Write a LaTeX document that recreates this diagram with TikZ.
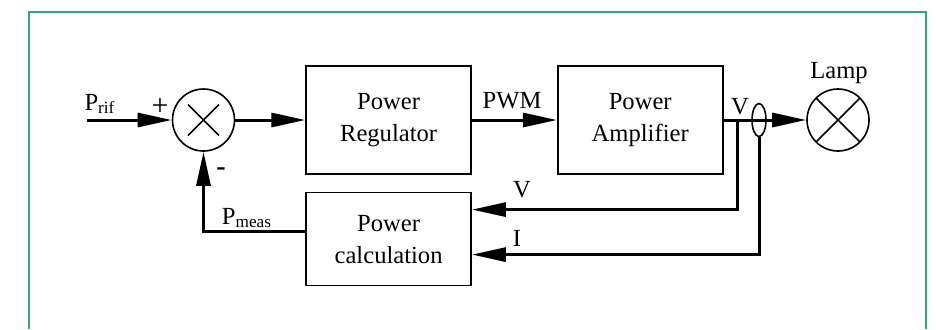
\documentclass[tikz,border=0pt]{standalone}
\usepackage{fontspec}
\setmainfont{Liberation Serif}
\usepackage{xcolor}
\usepackage{tikz}
\usetikzlibrary{arrows.meta, positioning, shapes.geometric}

\definecolor{framegreen}{RGB}{58,163,118}

\begin{document}
\begin{tikzpicture}[
        x=0.5pt, y=-0.5pt,
        font=\fontsize{12.3}{16}\selectfont,
        box/.style={rectangle, draw=black, line width=0.8pt, align=center, minimum width=82.5pt, minimum height=54pt, inner sep=0pt},
        sumnode/.style={circle, draw=black, line width=0.8pt, minimum size=31pt, inner sep=0pt,
            path picture={\draw[line width=0.8pt] (path picture bounding box.center) ++(-7.75pt,-7.75pt) -- ++(15.5pt,15.5pt);
                          \draw[line width=0.8pt] (path picture bounding box.center) ++(-7.75pt,7.75pt) -- ++(15.5pt,-15.5pt);}},
        lampnode/.style={circle, draw=black, line width=0.8pt, minimum size=31pt, inner sep=0pt,
            path picture={\draw[line width=0.8pt] (path picture bounding box.south west) -- (path picture bounding box.north east);
                          \draw[line width=0.8pt] (path picture bounding box.north west) -- (path picture bounding box.south east);}},
        sensor/.style={ellipse, draw=black, line width=0.8pt, minimum width=7pt, minimum height=16.5pt, inner sep=0pt},
        arrow/.style={-{Triangle[length=17pt, width=7pt]}, line width=1.5pt},
        frame/.style={draw=framegreen, line width=1pt}
    ]
        \useasboundingbox (0,0) rectangle (936,329);
        \draw[frame] (29,329) -- (29,12) -- (926,12) -- (926,329);

        \node[sumnode] (sum) at (203.5,120) {};
        \node[box, right=35pt of sum] (reg) {Power\\Regulator};
        \node[box, right=42.5pt of reg] (amp) {Power\\Amplifier};
        \node[box, minimum height=46.5pt, below=8.5pt of reg] (calc) {Power\\calculation};
        \node[lampnode] (lamp) at (838,120) {};
        \coordinate (ref) at (87,120);
        \coordinate (vtap) at (737,120);

        \draw[arrow] (ref) -- (sum);
        \draw[arrow] (sum) -- (reg);
        \draw[arrow] (reg) -- (amp);
        \draw[arrow] (amp) -- (lamp);
        \node[sensor] (isens) at (759,120) {};
        \draw[arrow] (vtap) |- ([yshift=14.75pt]calc.east);
        \draw[arrow] (isens.south) |- ([yshift=-7.75pt]calc.east);
        \draw[arrow] ([yshift=3.75pt]calc.west) -| (sum.south);

        % labels
        \node (lrif) at (100,104) {P\textsubscript{rif}};
        \node[font=\fontsize{15}{16}\selectfont] (lplus) at (160,107) {+};
        \node[font=\fontsize{14}{16}\selectfont\bfseries] (lminus) at (221,172) {-};
        \node (lmeas) at (247,218) {P\textsubscript{meas}};
        \node (lpwm) at (512,101) {PWM};
        \node (lvout) at (740,107) {V};
        \node (llamp) at (839,73) {Lamp};
        \node (lvfb) at (522,190) {V};
        \node (lifb) at (517,238) {I};
    \end{tikzpicture}
\end{document}
